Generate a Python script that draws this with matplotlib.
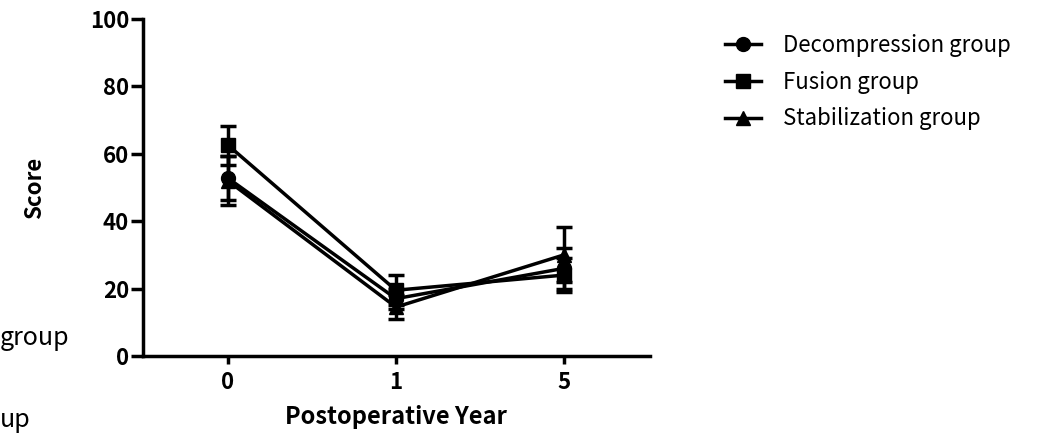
import numpy as np
import matplotlib.pyplot as plt

plt.rcParams['font.family'] = ['Noto Sans CJK JP', 'DejaVu Sans']

# Data
years = ['0', '1', '5']
decomp_mean = [52.8, 17.0, 26.0]
decomp_err = [6.5, 3.0, 6.0]
fusion_mean = [62.6, 19.5, 24.0]
fusion_err = [5.8, 4.5, 5.0]
stab_mean = [52.0, 14.5, 30.0]
stab_err = [7.2, 3.5, 8.2]

groups = [
    ('Decompression group', decomp_mean, decomp_err, 'o'),
    ('Fusion group', fusion_mean, fusion_err, 's'),
    ('Stabilization group', stab_mean, stab_err, '^'),
]

fig = plt.figure(figsize=(10.45, 4.33), dpi=100)
ax = fig.add_axes([0.1368, 0.178, 0.485, 0.778])

x = np.arange(len(years))
handles = []
labels = []
for name, m, e, mk in groups:
    h = ax.errorbar(x, m, yerr=e, color='black', marker=mk, markersize=10,
                    linewidth=2.5, elinewidth=2.5, capsize=6, capthick=2.5)
    handles.append(h[0])
    labels.append(name)

ax.set_xlim(-0.505, 2.51)
ax.set_ylim(0, 100)
ax.set_xticks(x)
ax.set_xticklabels(years)
ax.set_yticks([0, 20, 40, 60, 80, 100])
for s in ['top', 'right']:
    ax.spines[s].set_visible(False)
for s in ['left', 'bottom']:
    ax.spines[s].set_linewidth(2.5)
ax.tick_params(axis='y', length=9, width=2.5, labelsize=16, pad=1)
ax.tick_params(axis='x', length=6, width=2.5, labelsize=16, pad=5)
for lab in ax.get_xticklabels() + ax.get_yticklabels():
    lab.set_fontweight('bold')

ax.set_xlabel('Postoperative Year', fontsize=17, fontweight='bold')
ax.xaxis.set_label_coords(0.5, -0.145)
ax.set_ylabel('Score', fontsize=16, fontweight='bold')
ax.yaxis.set_label_coords(-0.191, 0.5)

fig.legend(handles, labels, loc='upper left', bbox_to_anchor=(0.675, 0.968),
           frameon=False, fontsize=16, handlelength=1.6, handletextpad=1.0,
           labelspacing=0.62)

# fragments of another legend at the left edge
fig.text(0.0, 1 - 338 / 433, 'group', ha='left', va='center', fontsize=18)
fig.text(0.0, 0.0, 'up', ha='left', va='bottom', fontsize=18)

fig.savefig('out.png', dpi=100)
